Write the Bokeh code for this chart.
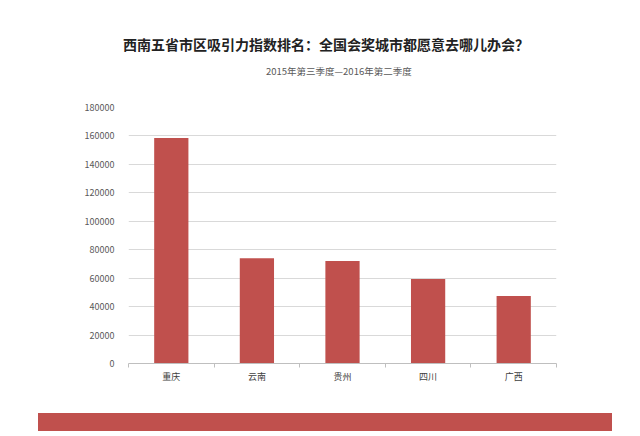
from bokeh.plotting import figure
from bokeh.models import Range1d, FixedTicker, ColumnDataSource, LinearAxis, Grid, NumeralTickFormatter, Div
from bokeh.layouts import column
from bokeh.embed import file_html
from bokeh.resources import INLINE

provinces = ["重庆", "云南", "贵州", "四川", "广西"]
values = [158500, 74000, 72000, 59500, 47500]
y_ticks = [0, 20000, 40000, 60000, 80000, 100000, 120000, 140000, 160000, 180000]
title_text = "西南五省市区吸引力指数排名：全国会奖城市都愿意去哪儿办会？"
subtitle_text = "2015年第三季度—2016年第二季度"

FONT = "Noto Sans CJK SC"
RED = "#C0504D"

xs = [i + 0.5 for i in range(len(provinces))]
src = ColumnDataSource(dict(x=xs, top=values))

# heading block (title + subtitle)
heading_html = (
    '<div style="height:34px"></div>'
    f'<div style="font-family:\'{FONT}\';font-size:14px;font-weight:bold;color:#222222;'
    f'line-height:20px;height:20px;padding-left:123px;white-space:nowrap">{title_text}</div>'
    '<div style="height:10px"></div>'
    f'<div style="font-family:\'{FONT}\';font-size:9.5px;font-weight:normal;color:#595959;'
    f'line-height:14px;height:14px;padding-left:266px;white-space:nowrap">{subtitle_text}</div>'
)
heading = Div(text=heading_html, width=640, height=80, margin=(0, 0, 0, 0))

p = figure(width=640, height=320, output_backend="svg", toolbar_location=None,
           x_range=Range1d(0, len(provinces)), y_range=Range1d(0, 180000),
           x_axis_type=None, y_axis_type=None,
           min_border_left=128, min_border_right=84, min_border_top=27, min_border_bottom=37)
p.outline_line_color = None
p.background_fill_color = "white"
p.border_fill_color = "white"

p.vbar(x="x", top="top", width=0.4, source=src, fill_color=RED, line_color=None)

yaxis = LinearAxis(ticker=FixedTicker(ticks=y_ticks), formatter=NumeralTickFormatter(format="0"))
yaxis.axis_line_color = None
yaxis.major_tick_line_color = None
yaxis.minor_tick_line_color = None
yaxis.major_label_text_font = FONT
yaxis.major_label_text_font_size = "9px"
yaxis.major_label_text_color = "#595959"
yaxis.major_label_standoff = 8
p.add_layout(yaxis, "left")

xaxis = LinearAxis(ticker=FixedTicker(ticks=xs, minor_ticks=list(range(len(provinces) + 1))))
xaxis.major_label_overrides = {x: name for x, name in zip(xs, provinces)}
xaxis.axis_line_color = "#bfbfbf"
xaxis.major_tick_line_color = None
xaxis.major_tick_out = 0
xaxis.major_tick_in = 0
xaxis.minor_tick_line_color = "#bfbfbf"
xaxis.minor_tick_out = 4
xaxis.minor_tick_in = 0
xaxis.major_label_text_font = FONT
xaxis.major_label_text_font_size = "9px"
xaxis.major_label_text_color = "#404040"
xaxis.major_label_standoff = 2
p.add_layout(xaxis, "below")

g = Grid(dimension=1, ticker=FixedTicker(ticks=y_ticks), grid_line_color="#d9d9d9", grid_line_width=1)
p.add_layout(g)

# decorative red band under the chart
band = Div(text="", width=574, height=18, margin=(13, 0, 5, 38),
           styles={"background-color": RED})

layout = column(heading, p, band, spacing=0)
open("out.html", "w").write(file_html(layout, INLINE))
